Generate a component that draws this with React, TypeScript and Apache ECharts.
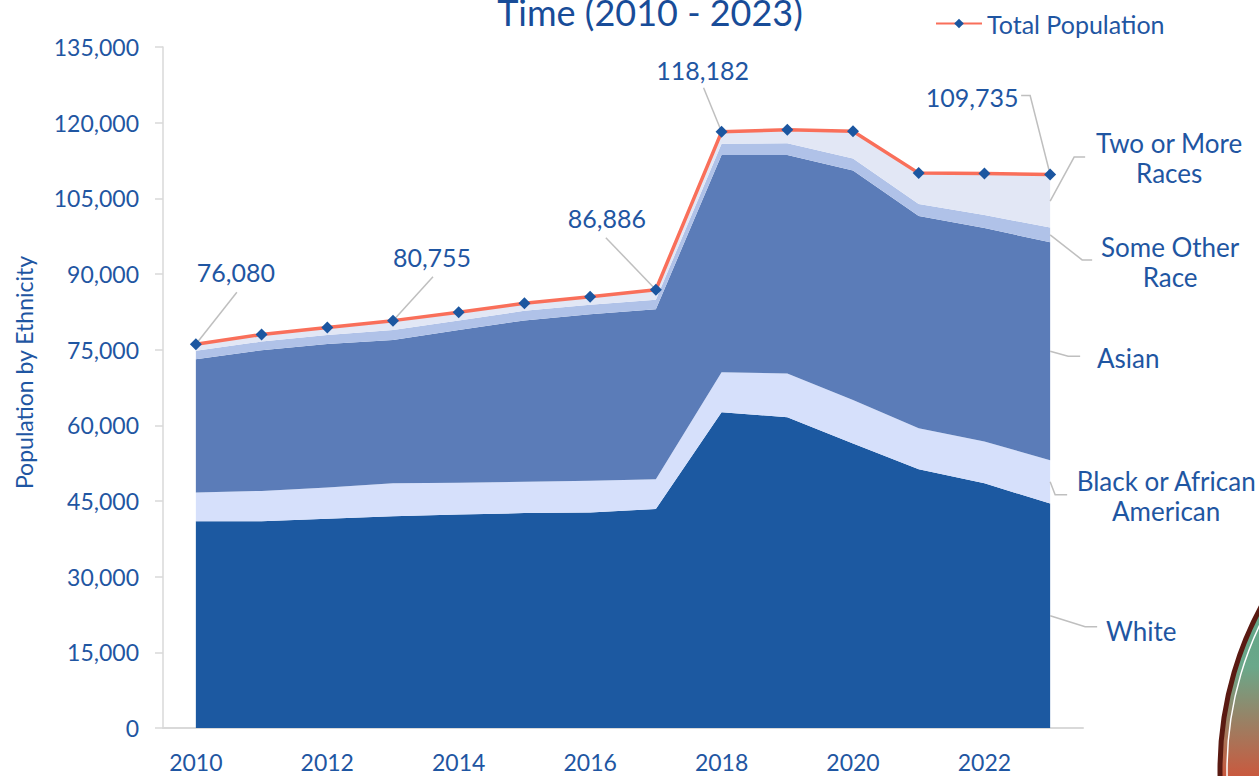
import React, { useEffect, useRef } from "react";
import * as echarts from "echarts";

const years = ["2010", "2011", "2012", "2013", "2014", "2015", "2016", "2017", "2018", "2019", "2020", "2021", "2022", "2023"];
const white = [41000, 41000, 41500, 42000, 42300, 42600, 42700, 43400, 62600, 61600, 56400, 51300, 48500, 44500];
const black = [5700, 6000, 6200, 6500, 6300, 6200, 6300, 5900, 7900, 8700, 8600, 8100, 8300, 8600];
const asian = [26400, 27900, 28400, 28400, 30300, 32000, 33000, 33700, 43100, 43300, 45500, 42100, 42300, 43200];
const someOther = [1700, 1700, 1800, 2000, 1900, 1900, 1900, 1900, 2200, 2300, 2400, 2400, 2600, 2900];
const twoOrMore = [1280, 1400, 1500, 1855, 1600, 1500, 1600, 1990, 2400, 2700, 5400, 6100, 8200, 10500];
const total = [76080, 78000, 79400, 80755, 82400, 84200, 85500, 86886, 118182, 118600, 118300, 110000, 109900, 109735];
const labelledTotals = [0, 3, 7, 8, 13];

const seriesNames = ["White", "Black or African\nAmerican", "Asian", "Some Other\nRace", "Two or More\nRaces"];
const seriesColors = ["#1c59a1", "#d6e0fb", "#5b7cb8", "#b0c2e8", "#e2e7f5"];
const seriesValues = [white, black, asian, someOther, twoOrMore];

const BLUE = "#1f56a2";
const FONT = "Lato, 'Open Sans', sans-serif";
const LEADER = "#bfbfbf";

// annotation layout (pixel offsets from the data point): text centre, leader-line points
const totalLabelLayout: Record<number, { t: number[]; pts: number[][] }> = {
  0: { t: [40, -72], pts: [[41, -52]] },
  3: { t: [39, -64], pts: [[40, -44]] },
  7: { t: [-49, -72], pts: [[-50, -52]] },
  8: { t: [-19, -62], pts: [[-18, -44]] },
  13: { t: [-78, -77], pts: [[-20, -79], [-29, -79]] },
};
const sideLabelLayout = [
  { t: [91, 15], pts: [[35, 11], [47, 11]] },
  { t: [116, 14], pts: [[5, 13], [17, 13]] },
  { t: [78, 7], pts: [[18, 5], [30, 5]] },
  { t: [120, 27], pts: [[32, 25], [42, 25]] },
  { t: [119, -43], pts: [[24, -44], [35, -44]] },
];

function annotation(pt: number[], lay: { t: number[]; pts: number[][] }, text: string, fontSize: number) {
  const points = [[pt[0], pt[1]], ...lay.pts.map((p) => [pt[0] + p[0], pt[1] + p[1]])];
  return {
    type: "group",
    children: [
      {
        type: "polyline",
        shape: { points },
        style: { stroke: LEADER, lineWidth: 1.5, fill: null },
      },
      {
        type: "text",
        x: pt[0] + lay.t[0],
        y: pt[1] + lay.t[1],
        style: {
          text,
          fill: BLUE,
          fontSize,
          fontFamily: FONT,
          lineHeight: 30,
          align: "center",
          verticalAlign: "middle",
        },
      },
    ],
  };
}

export default function App() {
  const ref = useRef<HTMLDivElement>(null);
  useEffect(() => {
    if (!ref.current) return;
    const chart = echarts.init(ref.current, undefined, { renderer: "svg" });
    const last = years.length - 1;
    let cum = 0;
    const mids = seriesValues.map((vals) => {
      const m = cum + vals[last] / 2;
      cum += vals[last];
      return m;
    });

    const areaSeries = seriesValues.map((vals, i) => ({
      name: seriesNames[i],
      type: "line",
      stack: "eth",
      data: vals,
      showSymbol: false,
      symbol: "none",
      lineStyle: { width: 0 },
      areaStyle: { color: seriesColors[i], opacity: 1 },
      itemStyle: { color: seriesColors[i] },
      emphasis: { disabled: true },
      z: 2,
    }));

    const option: any = {
      animation: false,
      textStyle: { fontFamily: FONT },
      title: {
        text: "Time (2010 - 2023)",
        left: 645,
        top: -11,
        textAlign: "center",
        textStyle: { fontFamily: FONT, fontSize: 36, fontWeight: "normal", color: "#184c98" },
      },
      legend: {
        data: ["Total Population"],
        left: 930,
        top: 6,
        itemWidth: 46,
        itemHeight: 12,
        itemGap: 8,
        textStyle: { fontFamily: FONT, fontSize: 25, color: BLUE },
      },
      grid: { left: 163, right: 176, top: 47, bottom: 48, containLabel: false },
      xAxis: {
        type: "category",
        data: years,
        boundaryGap: true,
        axisLine: { lineStyle: { color: "#d9d9d9", width: 2 } },
        axisTick: { show: false },
        axisLabel: { interval: 1, fontSize: 23, color: BLUE, margin: 22, fontFamily: FONT },
      },
      yAxis: {
        type: "value",
        min: 0,
        max: 135000,
        interval: 15000,
        name: "Population by Ethnicity",
        nameLocation: "middle",
        nameGap: 128,
        nameTextStyle: { fontSize: 23, color: BLUE, fontFamily: FONT, padding: [0, 0, 0, 30] },
        axisLine: { show: true, lineStyle: { color: "#d9d9d9", width: 1.5 } },
        axisTick: { show: true, length: 8, lineStyle: { color: "#d9d9d9", width: 1.5 } },
        splitLine: { show: false },
        axisLabel: {
          fontSize: 23,
          color: BLUE,
          margin: 24,
          fontFamily: FONT,
          formatter: (v: number) => v.toLocaleString("en-US"),
        },
      },
      series: [
        ...areaSeries,
        {
          name: "totalLabels",
          type: "custom",
          data: labelledTotals.map((i) => [i, total[i]]),
          renderItem: (params: any, api: any) => {
            const idx = labelledTotals[params.dataIndex];
            const pt = api.coord([api.value(0), api.value(1)]);
            return annotation(pt, totalLabelLayout[idx], total[idx].toLocaleString("en-US"), 25);
          },
          silent: true,
          clip: false,
          z: 4,
        },
        {
          name: "Total Population",
          type: "line",
          data: total,
          symbol: "diamond",
          symbolSize: 12,
          showSymbol: true,
          lineStyle: { color: "#f96f5a", width: 3.5 },
          itemStyle: { color: "#1b56a0" },
          emphasis: { disabled: true },
          z: 5,
        },
        {
          name: "sideLabels",
          type: "custom",
          data: mids.map((m) => [last, m]),
          renderItem: (params: any, api: any) => {
            const i = params.dataIndex;
            const pt = api.coord([api.value(0), api.value(1)]);
            return annotation(pt, sideLabelLayout[i], seriesNames[i], 26);
          },
          silent: true,
          clip: false,
          z: 6,
        },
      ],
      graphic: [
        {
          type: "circle",
          shape: { cx: 1565, cy: 770, r: 345 },
          style: {
            fill: new echarts.graphic.LinearGradient(0, 0, 0, 1, [
              { offset: 0, color: "#4f9a7c" },
              { offset: 0.35, color: "#6aa88a" },
              { offset: 0.55, color: "#e2452b" },
              { offset: 1, color: "#c8321c" },
            ]),
            stroke: "#5a1a12",
            lineWidth: 5,
          },
          silent: true,
        },
        {
          type: "circle",
          shape: { cx: 1565, cy: 770, r: 338 },
          style: { fill: "none", stroke: "#ffffff", lineWidth: 1.5 },
          silent: true,
        },
      ],
    };
    chart.setOption(option);
    return () => chart.dispose();
  }, []);
  return (
    <div
      ref={ref}
      style={{ position: "fixed", left: 0, top: 0, width: 1259, height: 776, background: "#ffffff" }}
    />
  );
}
